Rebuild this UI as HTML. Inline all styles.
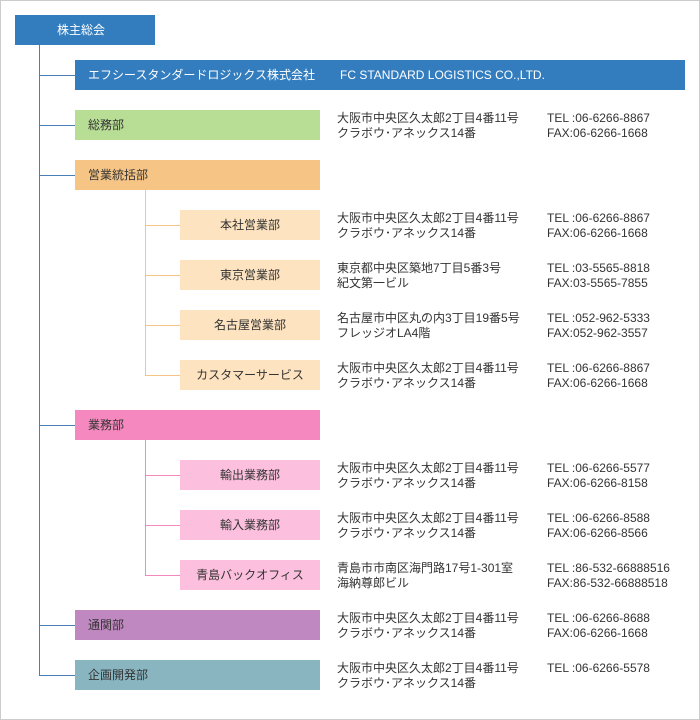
<!DOCTYPE html>
<html><head><meta charset="utf-8"><style>
body{margin:0;width:700px;height:720px;position:relative;background:#fff;font-family:"Liberation Sans","Noto Sans CJK JP",sans-serif;font-size:12px;color:#333;overflow:hidden}
.frame{position:absolute;left:0;top:0;width:698px;height:718px;border:1px solid #ccc}
.b{position:absolute;height:30px;line-height:30px;box-sizing:border-box}
.l{position:absolute}
.t{position:absolute;line-height:15px;white-space:nowrap}
</style></head><body>
<div class="frame"></div>
<div class="l" style="left:39px;top:45px;width:1px;height:631px;background:#4a7fb5"></div>
<div class="l" style="left:39px;top:75px;width:36px;height:1px;background:#4a7fb5"></div>
<div class="l" style="left:39px;top:125px;width:36px;height:1px;background:#4a7fb5"></div>
<div class="l" style="left:39px;top:175px;width:36px;height:1px;background:#4a7fb5"></div>
<div class="l" style="left:39px;top:425px;width:36px;height:1px;background:#4a7fb5"></div>
<div class="l" style="left:39px;top:625px;width:36px;height:1px;background:#4a7fb5"></div>
<div class="l" style="left:39px;top:675px;width:36px;height:1px;background:#4a7fb5"></div>
<div class="b" style="left:15px;top:15px;width:140px;background:#337dbf;color:#fff;padding-left:42px">株主総会</div>
<div class="b" style="left:75px;top:60px;width:610px;background:#337dbf;color:#fff;padding-left:13px">エフシースタンダードロジックス株式会社<span style="position:absolute;left:265px">FC STANDARD LOGISTICS CO.,LTD.</span></div>

<div class="b" style="left:75px;top:110px;width:245px;background:#b8de96;padding-left:13px">総務部</div>
<div class="b" style="left:75px;top:160px;width:245px;background:#f6c586;padding-left:13px">営業統括部</div>
<div class="l" style="left:145px;top:190px;width:1px;height:186px;background:#f6c586"></div>
<div class="l" style="left:145px;top:225px;width:35px;height:1px;background:#f6c586"></div>
<div class="l" style="left:145px;top:275px;width:35px;height:1px;background:#f6c586"></div>
<div class="l" style="left:145px;top:325px;width:35px;height:1px;background:#f6c586"></div>
<div class="l" style="left:145px;top:375px;width:35px;height:1px;background:#f6c586"></div>
<div class="b" style="left:180px;top:210px;width:140px;background:#fde3bf;text-align:center">本社営業部</div>
<div class="b" style="left:180px;top:260px;width:140px;background:#fde3bf;text-align:center">東京営業部</div>
<div class="b" style="left:180px;top:310px;width:140px;background:#fde3bf;text-align:center">名古屋営業部</div>
<div class="b" style="left:180px;top:360px;width:140px;background:#fde3bf;text-align:center">カスタマーサービス</div>

<div class="b" style="left:75px;top:410px;width:245px;background:#f588be;padding-left:13px">業務部</div>
<div class="l" style="left:145px;top:440px;width:1px;height:136px;background:#f588be"></div>
<div class="l" style="left:145px;top:475px;width:35px;height:1px;background:#f588be"></div>
<div class="l" style="left:145px;top:525px;width:35px;height:1px;background:#f588be"></div>
<div class="l" style="left:145px;top:575px;width:35px;height:1px;background:#f588be"></div>
<div class="b" style="left:180px;top:460px;width:140px;background:#fcc0de;text-align:center">輸出業務部</div>
<div class="b" style="left:180px;top:510px;width:140px;background:#fcc0de;text-align:center">輸入業務部</div>
<div class="b" style="left:180px;top:560px;width:140px;background:#fcc0de;text-align:center">青島バックオフィス</div>

<div class="b" style="left:75px;top:610px;width:245px;background:#c088c0;padding-left:13px">通関部</div>
<div class="b" style="left:75px;top:660px;width:245px;background:#88b5c0;padding-left:13px">企画開発部</div>

<div class="t" style="left:337px;top:111px">大阪市中央区久太郎2丁目4番11号<br>クラボウ･アネックス14番</div>
<div class="t" style="left:547px;top:111px">TEL :06-6266-8867<br>FAX:06-6266-1668</div>
<div class="t" style="left:337px;top:211px">大阪市中央区久太郎2丁目4番11号<br>クラボウ･アネックス14番</div>
<div class="t" style="left:547px;top:211px">TEL :06-6266-8867<br>FAX:06-6266-1668</div>
<div class="t" style="left:337px;top:261px">東京都中央区築地7丁目5番3号<br>紀文第一ビル</div>
<div class="t" style="left:547px;top:261px">TEL :03-5565-8818<br>FAX:03-5565-7855</div>
<div class="t" style="left:337px;top:311px">名古屋市中区丸の内3丁目19番5号<br>フレッジオLA4階</div>
<div class="t" style="left:547px;top:311px">TEL :052-962-5333<br>FAX:052-962-3557</div>
<div class="t" style="left:337px;top:361px">大阪市中央区久太郎2丁目4番11号<br>クラボウ･アネックス14番</div>
<div class="t" style="left:547px;top:361px">TEL :06-6266-8867<br>FAX:06-6266-1668</div>
<div class="t" style="left:337px;top:461px">大阪市中央区久太郎2丁目4番11号<br>クラボウ･アネックス14番</div>
<div class="t" style="left:547px;top:461px">TEL :06-6266-5577<br>FAX:06-6266-8158</div>
<div class="t" style="left:337px;top:511px">大阪市中央区久太郎2丁目4番11号<br>クラボウ･アネックス14番</div>
<div class="t" style="left:547px;top:511px">TEL :06-6266-8588<br>FAX:06-6266-8566</div>
<div class="t" style="left:337px;top:561px">青島市市南区海門路17号1-301室<br>海納尊郎ビル</div>
<div class="t" style="left:547px;top:561px">TEL :86-532-66888516<br>FAX:86-532-66888518</div>
<div class="t" style="left:337px;top:611px">大阪市中央区久太郎2丁目4番11号<br>クラボウ･アネックス14番</div>
<div class="t" style="left:547px;top:611px">TEL :06-6266-8688<br>FAX:06-6266-1668</div>
<div class="t" style="left:337px;top:661px">大阪市中央区久太郎2丁目4番11号<br>クラボウ･アネックス14番</div>
<div class="t" style="left:547px;top:661px">TEL :06-6266-5578</div>
</body></html>
